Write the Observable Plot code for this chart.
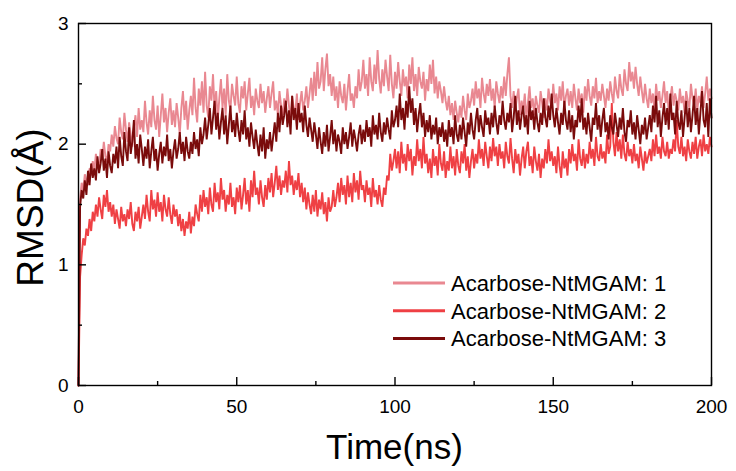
<!DOCTYPE html>
<html>
<head>
<meta charset="utf-8">
<script src="https://cdn.jsdelivr.net/npm/d3@7"></script>
<script src="https://cdn.jsdelivr.net/npm/@observablehq/plot@0.6"></script>
<style>
  html, body { margin: 0; padding: 0; background: #fff; }
  #chart svg { display: block; }
</style>
</head>
<body>
<div id="chart"></div>
<script>
// ---- data (0.5 ns sampling) ----
const timeStepNs = 0.5;
const seriesNames = ["Acarbose-NtMGAM: 1", "Acarbose-NtMGAM: 2", "Acarbose-NtMGAM: 3"];
const seriesColors = ["#E98891", "#EF4044", "#7A0B0B"];

const rmsd1 = [0,
1.55,1.68,1.62,1.75,1.70,1.66,1.80,1.74,1.86,1.78,
1.92,1.84,1.80,1.96,1.88,2.02,1.90,1.85,2.00,1.94,
2.08,1.98,2.15,2.05,2.00,2.22,2.10,2.04,2.26,2.12,
2.02,2.18,2.08,1.98,2.14,2.24,2.06,2.30,2.12,2.20,
2.10,2.36,2.18,2.08,2.28,2.14,2.40,2.20,2.12,2.32,
2.06,2.24,2.42,2.18,2.30,2.10,2.26,2.38,2.16,2.28,
2.14,2.34,2.22,2.08,2.30,2.44,2.20,2.36,2.12,2.28,
2.40,2.24,2.55,2.30,2.18,2.46,2.32,2.52,2.26,2.60,
2.32,2.22,2.48,2.36,2.58,2.28,2.44,2.20,2.38,2.54,
2.30,2.46,2.24,2.58,2.36,2.28,2.50,2.40,2.32,2.56,
2.34,2.26,2.48,2.38,2.52,2.28,2.42,2.55,2.30,2.40,
2.24,2.46,2.36,2.30,2.50,2.34,2.44,2.26,2.38,2.48,
2.30,2.42,2.52,2.28,2.36,2.24,2.44,2.32,2.22,2.38,
2.28,2.46,2.32,2.20,2.40,2.30,2.26,2.42,2.20,2.34,
2.44,2.28,2.36,2.48,2.30,2.42,2.55,2.36,2.60,2.40,
2.68,2.46,2.52,2.72,2.44,2.62,2.75,2.48,2.58,2.40,
2.56,2.36,2.48,2.30,2.52,2.40,2.34,2.50,2.28,2.44,
2.58,2.36,2.42,2.30,2.48,2.38,2.62,2.44,2.52,2.70,
2.46,2.58,2.40,2.72,2.52,2.44,2.66,2.50,2.78,2.54,
2.42,2.62,2.48,2.70,2.56,2.44,2.74,2.50,2.38,2.60,
2.46,2.68,2.52,2.40,2.62,2.48,2.56,2.38,2.66,2.50,
2.72,2.44,2.58,2.40,2.64,2.52,2.46,2.60,2.36,2.54,
2.44,2.66,2.50,2.70,2.42,2.56,2.38,2.52,2.44,2.34,
2.48,2.36,2.28,2.40,2.24,2.34,2.20,2.36,2.26,2.18,
2.32,2.22,2.40,2.28,2.20,2.42,2.30,2.36,2.46,2.32,
2.52,2.38,2.46,2.30,2.55,2.42,2.34,2.50,2.40,2.54,
2.36,2.46,2.30,2.52,2.42,2.34,2.48,2.38,2.56,2.40,
2.58,2.72,2.40,2.30,2.44,2.28,2.38,2.46,2.24,2.36,
2.28,2.42,2.22,2.34,2.48,2.30,2.38,2.24,2.40,2.32,
2.26,2.44,2.34,2.22,2.38,2.28,2.46,2.36,2.30,2.50,
2.34,2.42,2.28,2.48,2.36,2.52,2.30,2.40,2.46,2.32,
2.44,2.30,2.50,2.38,2.28,2.46,2.34,2.42,2.26,2.48,
2.36,2.54,2.40,2.32,2.48,2.38,2.55,2.34,2.44,2.36,
2.50,2.40,2.30,2.46,2.36,2.52,2.42,2.34,2.56,2.44,
2.38,2.58,2.46,2.40,2.62,2.50,2.44,2.68,2.52,2.60,
2.46,2.64,2.50,2.40,2.56,2.44,2.34,2.50,2.38,2.30,
2.46,2.34,2.42,2.28,2.50,2.36,2.44,2.30,2.40,2.52,
2.34,2.44,2.26,2.38,2.48,2.32,2.42,2.36,2.28,2.46,
2.34,2.40,2.26,2.44,2.36,2.30,2.50,2.38,2.32,2.46,
2.28,2.40,2.34,2.48,2.30,2.42,2.56,2.36,2.46,2.38];

const rmsd2 = [0,
0.90,1.08,1.22,1.16,1.30,1.24,1.38,1.28,1.44,1.36,
1.50,1.40,1.56,1.46,1.38,1.58,1.48,1.62,1.44,1.52,
1.40,1.50,1.34,1.46,1.38,1.30,1.48,1.36,1.42,1.32,
1.46,1.38,1.52,1.34,1.28,1.44,1.36,1.48,1.30,1.40,
1.50,1.38,1.58,1.44,1.36,1.62,1.46,1.54,1.40,1.60,
1.44,1.52,1.36,1.58,1.46,1.40,1.56,1.42,1.34,1.50,
1.40,1.46,1.32,1.42,1.28,1.38,1.24,1.36,1.30,1.44,
1.26,1.40,1.32,1.50,1.42,1.36,1.58,1.44,1.62,1.48,
1.56,1.42,1.64,1.50,1.44,1.68,1.52,1.60,1.46,1.72,
1.54,1.62,1.44,1.58,1.50,1.68,1.48,1.56,1.42,1.64,
1.52,1.66,1.46,1.58,1.72,1.50,1.62,1.44,1.70,1.56,
1.78,1.58,1.64,1.50,1.70,1.56,1.48,1.66,1.54,1.72,
1.60,1.76,1.56,1.68,1.82,1.62,1.74,1.58,1.70,1.64,
1.78,1.60,1.86,1.66,1.74,1.58,1.70,1.62,1.76,1.56,
1.68,1.52,1.64,1.46,1.60,1.50,1.42,1.58,1.44,1.62,
1.40,1.54,1.46,1.60,1.42,1.52,1.36,1.56,1.44,1.48,
1.62,1.48,1.56,1.68,1.52,1.72,1.58,1.66,1.50,1.74,
1.56,1.68,1.52,1.76,1.60,1.70,1.54,1.78,1.62,1.66,
1.52,1.70,1.58,1.64,1.48,1.72,1.56,1.62,1.50,1.66,
1.54,1.48,1.64,1.58,1.74,1.70,1.92,1.78,1.86,1.96,
1.80,1.94,1.76,2.02,1.84,1.92,1.78,2.00,1.86,1.96,
1.74,1.90,1.82,2.04,1.86,1.96,1.80,2.06,1.84,1.92,
1.76,1.88,1.72,1.96,1.82,1.90,1.74,2.00,1.84,1.78,
1.94,1.72,1.86,1.78,1.98,1.80,1.90,1.74,1.96,1.82,
1.76,1.94,1.84,2.00,1.78,1.90,1.72,1.86,1.96,1.80,
1.92,1.84,2.04,1.88,1.96,1.82,2.02,1.90,1.80,1.98,
1.86,2.05,1.90,1.98,1.82,2.00,1.88,1.94,1.80,2.02,
1.90,1.84,2.05,1.88,1.76,1.96,1.84,1.92,1.74,1.88,
1.98,1.80,1.94,2.02,1.82,1.90,1.76,1.98,1.86,1.78,
1.92,1.72,1.88,1.80,1.96,1.84,2.04,1.86,1.94,1.82,
1.90,1.76,1.98,1.82,1.72,1.94,1.80,1.88,1.74,1.96,
1.84,2.00,1.86,1.92,1.78,2.04,1.88,1.82,1.96,1.80,
1.92,1.84,2.02,1.88,1.96,1.82,2.06,1.90,1.86,2.00,
1.88,1.94,1.84,2.08,1.92,1.98,2.34,2.02,1.90,2.10,
1.94,2.04,1.88,2.08,1.92,1.86,2.02,1.90,1.96,1.84,
2.00,1.86,1.92,1.80,1.98,1.88,1.78,1.94,1.84,1.90,
1.96,1.86,2.04,1.90,2.08,1.92,1.98,1.88,2.06,1.94,
1.90,2.02,1.88,1.96,1.92,2.04,1.94,2.20,1.98,1.92,
2.06,1.90,1.98,1.86,2.04,1.94,1.88,2.02,1.92,2.06,
1.88,1.98,2.04,1.90,2.08,1.94,2.00,1.92,2.06,1.98];

const rmsd3 = [0,
1.48,1.62,1.55,1.70,1.58,1.78,1.66,1.84,1.72,1.80,
1.70,1.90,1.76,1.84,1.96,1.78,1.88,1.72,1.94,1.82,
1.76,1.92,1.84,1.98,1.80,2.06,1.90,1.82,2.10,1.94,
1.86,2.14,1.92,2.02,2.20,1.88,2.00,1.84,2.08,1.96,
1.82,1.98,1.88,2.04,1.80,1.94,2.06,1.86,1.96,1.78,
1.92,2.02,1.84,1.98,1.90,2.08,1.86,1.96,1.80,1.94,
2.04,1.88,1.96,2.10,1.92,2.02,1.86,2.06,1.94,1.88,
2.02,1.92,2.10,1.96,2.04,1.90,2.14,2.00,2.08,2.22,
2.04,2.16,2.30,2.08,2.22,2.36,2.12,2.26,2.04,2.18,
2.30,2.08,2.24,2.00,2.16,2.32,2.10,2.20,2.06,2.26,
2.12,2.02,2.20,2.08,2.28,2.04,2.14,1.98,2.18,2.06,
1.96,2.12,2.00,1.90,2.08,1.94,2.14,1.88,2.04,1.96,
2.10,1.94,2.06,2.18,2.02,2.26,2.10,2.32,2.16,2.24,
2.36,2.14,2.28,2.08,2.40,2.20,2.30,2.12,2.34,2.18,
2.26,2.10,2.32,2.16,2.06,2.22,2.12,2.02,2.18,2.08,
1.96,2.14,2.02,1.92,2.10,1.98,2.16,1.94,2.06,2.20,
2.00,2.12,1.94,2.08,2.02,1.92,2.14,2.00,2.10,1.96,
2.06,2.18,1.98,2.12,2.04,1.94,2.08,2.16,2.00,2.12,
2.02,2.20,2.06,2.14,1.98,2.24,2.08,2.16,2.04,2.26,
2.10,2.02,2.18,2.08,2.22,2.12,2.04,2.28,2.14,2.20,
2.32,2.14,2.42,2.20,2.30,2.12,2.36,2.22,2.48,2.26,
2.38,2.16,2.30,2.10,2.24,2.34,2.14,2.26,2.06,2.20,
2.10,2.24,2.04,2.16,2.08,2.22,2.00,2.14,2.06,2.18,
2.02,2.12,1.98,2.20,2.06,2.14,2.00,2.24,2.08,2.02,
2.16,2.04,2.22,2.10,1.98,2.18,2.08,2.26,2.12,2.04,
2.20,2.30,2.10,2.24,2.14,2.06,2.28,2.16,2.22,2.08,
2.26,2.14,2.32,2.18,2.08,2.24,2.16,2.36,2.20,2.12,
2.26,2.18,2.34,2.10,2.22,2.40,2.16,2.28,2.12,2.24,
2.32,2.14,2.24,2.08,2.36,2.20,2.28,2.12,2.30,2.18,
2.10,2.26,2.16,2.38,2.22,2.14,2.32,2.20,2.42,2.24,
2.14,2.30,2.18,2.08,2.26,2.16,2.36,2.20,2.12,2.28,
2.10,2.24,2.04,2.20,2.14,2.32,2.18,2.38,2.12,2.22,
2.08,2.26,2.14,2.02,2.22,2.16,2.34,2.12,2.24,2.06,
2.20,2.30,2.10,2.18,2.04,2.24,2.14,2.08,2.26,2.16,
2.06,2.22,2.12,2.30,2.10,2.02,2.20,2.14,2.28,2.08,
2.18,2.04,2.24,2.12,2.00,2.16,2.08,2.22,2.04,2.14,
2.24,2.10,2.32,2.18,2.40,2.14,2.28,2.06,2.22,2.34,
2.16,2.30,2.12,2.42,2.20,2.26,2.08,2.36,2.18,2.12,
2.28,2.06,2.22,2.36,2.14,2.30,2.10,2.24,2.40,2.16,
2.30,2.08,2.26,2.44,2.20,2.14,2.34,2.06,2.38,2.22];

const xMajorTicks = [0, 50, 100, 150, 200];
const xMinorTicks = [25, 75, 125, 175];
const yMajorTicks = [0, 1, 2, 3];
const yMinorTicks = [0.5, 1.5, 2.5];
const xTitle = "Time(ns)";
const yTitle = "RMSD(Å)";

// ---- build table ----
const allSeries = [rmsd1, rmsd2, rmsd3];
const rows = allSeries.flatMap((vals, s) =>
  vals.map((v, i) => ({series: seriesNames[s], time: i * timeStepNs, rmsd: v})));

// ---- layout ----
const W = 736, H = 471;
const mL = 78, mR = 25, mT = 23, mB = 86;
const plotW = W - mL - mR, plotH = H - mT - mB;
const font = "'Liberation Sans', Arial, Helvetica, sans-serif";

const chart = Plot.plot({
  width: W, height: H,
  marginLeft: mL, marginRight: mR, marginTop: mT, marginBottom: mB,
  style: {fontFamily: font, background: "white", color: "black"},
  x: {domain: [0, 200]},
  y: {domain: [0, 3]},
  color: {domain: seriesNames, range: seriesColors},
  marks: [
    ...seriesNames.map(name =>
      Plot.line(rows.filter(d => d.series === name),
        {x: "time", y: "rmsd", stroke: "series", strokeWidth: 1.9, strokeLinejoin: "miter", strokeMiterlimit: 2})),
    Plot.frame({stroke: "black", strokeWidth: 1.4}),
    Plot.tickX(xMajorTicks, {x: d => d, insetTop: plotH - 8, stroke: "black", strokeWidth: 1.4}),
    Plot.tickX(xMinorTicks, {x: d => d, insetTop: plotH - 4, stroke: "black", strokeWidth: 1.4}),
    Plot.tickY(yMajorTicks, {y: d => d, insetRight: plotW - 8, stroke: "black", strokeWidth: 1.4}),
    Plot.tickY(yMinorTicks, {y: d => d, insetRight: plotW - 4, stroke: "black", strokeWidth: 1.4}),
    Plot.axisX({ticks: xMajorTicks, tickSize: 0, tickPadding: 14, fontSize: 19, label: null, tickFormat: d => String(d)}),
    Plot.axisY({ticks: yMajorTicks, tickSize: 0, tickPadding: 10, fontSize: 19, label: null, tickFormat: d => String(d)})
  ]
});

document.getElementById("chart").appendChild(chart);

// ---- titles and legend ----
const svg = d3.select(chart);
svg.append("text")
  .attr("x", mL + plotW / 2).attr("y", 459)
  .attr("text-anchor", "middle")
  .attr("font-family", font).attr("font-size", 35).attr("fill", "black")
  .text(xTitle);
svg.append("text")
  .attr("transform", `translate(43, ${(128 + 287) / 2}) rotate(-90)`)
  .attr("text-anchor", "middle")
  .attr("font-family", font).attr("font-size", 37).attr("fill", "black")
  .text(yTitle);

const leg = svg.append("g").attr("text-anchor", "start");
seriesNames.forEach((name, i) => {
  const cy = 283 + i * 27.7;
  leg.append("line")
    .attr("x1", 393).attr("x2", 445).attr("y1", cy).attr("y2", cy)
    .attr("stroke", seriesColors[i]).attr("stroke-width", 3);
  leg.append("text")
    .attr("x", 451).attr("y", cy).attr("dy", "0.36em")
    .attr("text-anchor", "start")
    .attr("font-family", font).attr("font-size", 22).attr("fill", "black")
    .text(name);
});
</script>
</body>
</html>
